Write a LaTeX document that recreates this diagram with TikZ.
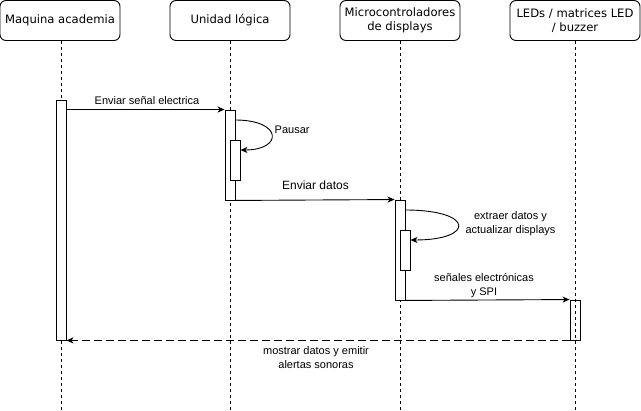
\documentclass[tikz,border=0pt]{standalone}
\usepackage{fontspec}
\setmainfont{Liberation Sans}
\newfontfamily\headfont{DejaVu Sans}
\usetikzlibrary{arrows.meta}
\begin{document}
\begin{tikzpicture}[x=1pt,y=-1pt,
  head/.style={draw, rounded corners=6pt, minimum height=40pt, align=center, inner sep=0pt, line width=0.9pt, font=\headfont\fontsize{11.6}{14}\selectfont},
  life/.style={dash pattern=on 3pt off 3pt, line width=0.9pt},
  act/.style={draw, fill=white, minimum width=10pt, inner sep=0pt, line width=0.9pt},
  msg/.style={line width=0.9pt, -{Stealth[length=7pt,width=6pt,inset=2pt]}},
  rmsg/.style={msg, dash pattern=on 8pt off 4pt},
  lbl/.style={font=\fontsize{11}{14}\selectfont, align=center, inner sep=0pt},
  lblb/.style={font=\fontsize{12}{14}\selectfont, align=center, inner sep=0pt}
]
\useasboundingbox (0,0) rectangle (641,411);
% headers
\node[head, minimum width=120pt] (h1) at (60,20.5) {Maquina academia};
\node[head, minimum width=120pt] (h2) at (230,20.5) {Unidad lógica};
\node[head, minimum width=120pt] (h3) at (400,20.5) {Microcontroladores\\de displays};
\node[head, minimum width=130pt] (h4) at (575,20.5) {LEDs / matrices LED\\/ buzzer};
% lifeline ends
\coordinate (e1) at (61,411);
\coordinate (e2) at (230,411);
\coordinate (e3) at (400,411);
\coordinate (e4) at (575,411);
\draw[life] (h1.south -| e1) -- (e1);
\draw[life] (h2.south) -- (e2);
\draw[life] (h3.south) -- (e3);
% activations
\node[act, minimum height=240pt] (a1) at (61,220) {};
\node[act, minimum height=90pt] (a2) at (230,155) {};
\node[act, minimum height=40pt] (a2b) at (235,160) {};
\node[act, minimum height=100pt] (a3) at (400,250) {};
\node[act, minimum height=40pt] (a3b) at (405,250) {};
\node[act, fill=none, minimum height=40pt] (a4) at (575,320) {};
\draw[life] (h4.south) -- (e4);
% messages
\draw[msg] (a1.east |- a2.north) -- (a2.north west);
\node[lbl] (l1) at (147,101) {Enviar señal electrica};
\coordinate (s1) at (235,120);
\coordinate (t1) at (240,150);
\draw[msg] (s1) .. controls (283,120) and (283,150) .. (a2b.east |- t1);
\node[lbl, anchor=west] (l2) at (274.5,130) {Pausar};
\draw[msg] (a2.south east) -- (a3.north west);
\node[lblb] (l3) at (315.5,185) {Enviar datos};
\coordinate (s2) at (405,210);
\coordinate (t2) at (410,240);
\draw[msg] (s2) .. controls (475,210) and (475,240) .. (a3b.east |- t2);
\node[lbl] (l4) at (510.5,224) {extraer datos y\\actualizar displays};
\draw[msg] (a3.south east) -- (a4.north west);
\node[lbl] (l5) at (484,285.5) {señales electrónicas\\y SPI};
\draw[rmsg] (a4.south west) -- (a1.south east);
\node[lbl] (l6) at (316,358) {mostrar datos y emitir\\alertas sonoras};
\end{tikzpicture}
\end{document}
